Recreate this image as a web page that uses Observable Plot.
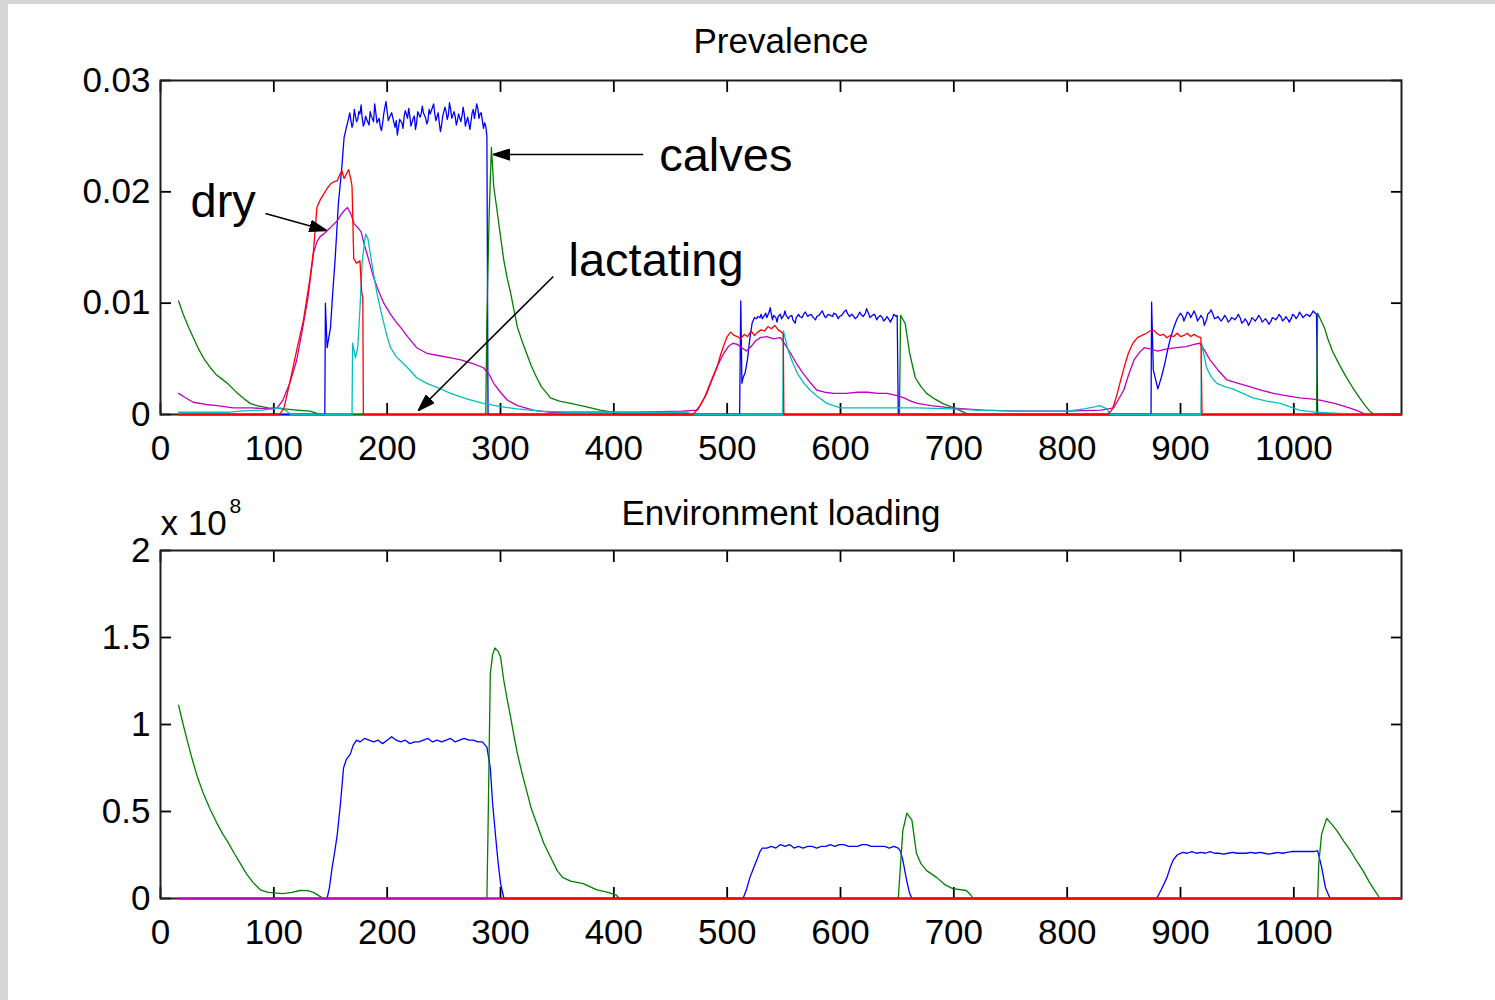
<!DOCTYPE html>
<html><head><meta charset="utf-8">
<script src="https://cdn.jsdelivr.net/npm/d3@7"></script>
<script src="https://cdn.jsdelivr.net/npm/@observablehq/plot@0.6"></script>
<style>
html,body{margin:0;padding:0;width:1495px;height:1000px;overflow:hidden;background:#d6d6d6;}
#page{position:absolute;left:8px;top:4px;width:1487px;height:996px;background:#fff;}
#p1{position:absolute;left:0;top:0;}
#p2{position:absolute;left:0;top:470px;}
</style></head><body><div id="page"></div><div id="p1"></div><div id="p2"></div>
<script>
// ---------- axes ----------
const xDomain = [0, 1095];
const xTicks = [0, 100, 200, 300, 400, 500, 600, 700, 800, 900, 1000];
const prevDomain = [0, 0.03];
const prevTicks = [0, 0.01, 0.02, 0.03];
const prevTickLabels = ["0", "0.01", "0.02", "0.03"];
const envDomain = [0, 2];
const envTicks = [0, 0.5, 1, 1.5, 2];
const envTickLabels = ["0", "0.5", "1", "1.5", "2"];
const titles = ["Prevalence", "Environment loading"];
const envMultiplier = ["x 10", "8"];

// ---------- Prevalence series [day, value] ----------
const prevBlue = [[16,0],[145,0],[145.5,0.0100],[147,0.0060],[150,0.0078],[152,0.0110],[154,0.0138],[157,0.0190],[160,0.0222],[162,0.0249],[165,0.0262],[166,0.0266],[167,0.0271],[168,0.0264],[169,0.0258],[170,0.0262],[171,0.0274],[172,0.0268],[173,0.0263],[174,0.0265],[175,0.0272],[176,0.0270],[177,0.0278],[178,0.0266],[179,0.0259],[180,0.0262],[181,0.0268],[182,0.0265],[184,0.0260],[185,0.0272],[186,0.0268],[188,0.0263],[189,0.0279],[190,0.0271],[191,0.0262],[193,0.0266],[194,0.0258],[195,0.0255],[196,0.0262],[197,0.0270],[198,0.0276],[199,0.0281],[200,0.0272],[201,0.0264],[203,0.0269],[204,0.0271],[206,0.0262],[207,0.0258],[208,0.0264],[209,0.0251],[210,0.0258],[211,0.0265],[213,0.0262],[214,0.0257],[215,0.0268],[216,0.0273],[218,0.0266],[219,0.0275],[220,0.0268],[221,0.0259],[223,0.0266],[224,0.0268],[225,0.0256],[226,0.0262],[227,0.0272],[229,0.0267],[230,0.0270],[231,0.0277],[232,0.0271],[234,0.0266],[235,0.0261],[236,0.0264],[237,0.0274],[238,0.0270],[240,0.0276],[241,0.0279],[242,0.0270],[243,0.0264],[245,0.0271],[246,0.0262],[247,0.0254],[248,0.0260],[249,0.0268],[251,0.0276],[252,0.0272],[253,0.0265],[254,0.0269],[255,0.0280],[256,0.0274],[257,0.0266],[259,0.0272],[260,0.0268],[261,0.0260],[262,0.0264],[263,0.0270],[265,0.0263],[266,0.0268],[267,0.0276],[268,0.0270],[269,0.0259],[270,0.0263],[271,0.0267],[272,0.0262],[273,0.0256],[275,0.0271],[276,0.0274],[277,0.0266],[278,0.0272],[279,0.0279],[280,0.0275],[281,0.0266],[282,0.0270],[283,0.0271],[284,0.0264],[285,0.0257],[286,0.0262],[287,0.0259],[288,0.0250],[289,0],
[511,0],[512,0.0102],[513,0.0028],[514,0.0033],[516,0.0038],[518,0.0050],[520,0.0068],[522,0.0082],[524,0.0087],[526,0.0086],[527,0.0088],[529,0.0087],[530,0.0090],[531,0.0086],[533,0.0089],[534,0.0091],[535,0.0087],[537,0.0092],[538,0.0096],[539,0.0090],[540,0.0085],[541,0.0089],[543,0.0087],[544,0.0083],[545,0.0088],[547,0.0090],[548,0.0086],[550,0.0089],[551,0.0093],[552,0.0089],[554,0.0086],[555,0.0088],[557,0.0089],[558,0.0085],[560,0.0082],[561,0.0087],[563,0.0090],[564,0.0088],[566,0.0087],[568,0.0091],[569,0.0092],[571,0.0088],[572,0.0089],[574,0.0090],[576,0.0087],[578,0.0085],[579,0.0088],[581,0.0089],[583,0.0092],[584,0.0093],[586,0.0088],[587,0.0087],[589,0.0090],[591,0.0089],[593,0.0088],[594,0.0091],[596,0.0090],[598,0.0086],[599,0.0088],[601,0.0089],[603,0.0092],[605,0.0094],[606,0.0091],[608,0.0088],[610,0.0090],[611,0.0089],[613,0.0086],[615,0.0088],[617,0.0092],[618,0.0090],[620,0.0088],[622,0.0091],[623,0.0095],[625,0.0090],[626,0.0087],[628,0.0089],[630,0.0090],[632,0.0085],[633,0.0087],[635,0.0089],[637,0.0087],[638,0.0084],[640,0.0086],[641,0.0088],[643,0.0085],[644,0.0083],[646,0.0087],[647,0.0090],[649,0.0088],[650,0.0089],[651,0],
[874,0],[874.5,0.0101],[876,0.0040],[880,0.0023],[883,0.0033],[886,0.0045],[888,0.0055],[891,0.0068],[894,0.0078],[897,0.0086],[900,0.0091],[902,0.0088],[903,0.0084],[905,0.0089],[906,0.0092],[908,0.0090],[909,0.0087],[911,0.0091],[912,0.0093],[914,0.0088],[915,0.0084],[917,0.0087],[918,0.0089],[920,0.0086],[921,0.0080],[923,0.0085],[924,0.0090],[926,0.0092],[927,0.0094],[929,0.0089],[930,0.0086],[932,0.0087],[933,0.0088],[935,0.0085],[936,0.0084],[938,0.0087],[939,0.0089],[941,0.0086],[942,0.0083],[944,0.0085],[945,0.0087],[947,0.0086],[948,0.0085],[950,0.0088],[951,0.0090],[953,0.0086],[954,0.0082],[956,0.0084],[957,0.0086],[959,0.0083],[960,0.0080],[962,0.0084],[963,0.0087],[965,0.0085],[966,0.0084],[968,0.0087],[969,0.0089],[971,0.0086],[972,0.0083],[974,0.0085],[975,0.0086],[977,0.0083],[978,0.0081],[980,0.0084],[981,0.0087],[983,0.0086],[984,0.0085],[986,0.0088],[987,0.0090],[989,0.0087],[990,0.0084],[992,0.0086],[993,0.0088],[995,0.0085],[996,0.0083],[998,0.0087],[999,0.0090],[1001,0.0088],[1002,0.0086],[1004,0.0089],[1005,0.0092],[1007,0.0089],[1008,0.0087],[1010,0.0089],[1011,0.0090],[1013,0.0089],[1014,0.0088],[1016,0.0091],[1017,0.0093],[1019,0.0091],[1020,0.0090],[1021,0],[1095,0]];

const prevGreen = [[16,0.0102],[20,0.0090],[25,0.0078],[29,0.0069],[34,0.0058],[39,0.0049],[44,0.0042],[49,0.0036],[54,0.0032],[59,0.0028],[64,0.0023],[68,0.0019],[74,0.0014],[79,0.0010],[85,0.0008],[95,0.0006],[109,0.0005],[120,0.0004],[132,0.0003],[138,0.0001],[140,0],[287,0],[288,0.0087],[290,0.0180],[292,0.0240],[294,0.0205],[297,0.0183],[300,0.0160],[303,0.0138],[306,0.0122],[309,0.0109],[312,0.0093],[315,0.0078],[319,0.0066],[323,0.0055],[327,0.0044],[332,0.0033],[336,0.0025],[341,0.0019],[344,0.0015],[352,0.0012],[362,0.0010],[375,0.0007],[388,0.0004],[400,0.0002],[406,0],[652,0],[653,0.0089],[657,0.0082],[661,0.0055],[666,0.0033],[671,0.0025],[676,0.0019],[683,0.0014],[690,0.0010],[700,0.0006],[711,0.0001],[715,0],[1020,0],[1021,0.0091],[1027,0.0078],[1030,0.0068],[1034,0.0057],[1040,0.0045],[1046,0.0034],[1052,0.0024],[1058,0.0015],[1063,0.0008],[1067,0.0003],[1071,0],[1095,0]];

const prevRed = [[16,0],[105,0],[109,0.0006],[115,0.0033],[120,0.0057],[126,0.0084],[132,0.0123],[135,0.0147],[138,0.0186],[141,0.0193],[144,0.0198],[147,0.0203],[150,0.0207],[153,0.0209],[156,0.0210],[158,0.0215],[160,0.0219],[162,0.0212],[164,0.0216],[166,0.0220],[168,0.0211],[169,0.0205],[170.5,0.0140],[173,0.0136],[176,0.0138],[177.5,0.0110],[178.5,0.0105],[179,0],[470,0],[476,0.0008],[482,0.0019],[487,0.0032],[491,0.0042],[494,0.0053],[497,0.0062],[500,0.0070],[503,0.0074],[506,0.0071],[509,0.0070],[512,0.0068],[515,0.0072],[518,0.0070],[521,0.0075],[524,0.0071],[527,0.0074],[530,0.0076],[533,0.0075],[536,0.0079],[539,0.0077],[542,0.0080],[545,0.0076],[548,0.0074],[549.5,0.0072],[550,0],[836,0],[840,0.0005],[844,0.0018],[847,0.0030],[851,0.0045],[854,0.0055],[858,0.0064],[862,0.0069],[866,0.0071],[870,0.0073],[873,0.0075],[876,0.0076],[879,0.0073],[882,0.0071],[885,0.0072],[888,0.0069],[891,0.0071],[894,0.0070],[897,0.0073],[900,0.0070],[903,0.0071],[906,0.0073],[909,0.0070],[912,0.0072],[915,0.0070],[918,0.0069],[919,0],[1095,0]];

const prevMagenta = [[16,0.0019],[22,0.0015],[29,0.0011],[40,0.0009],[50,0.0008],[64,0.0006],[80,0.0006],[95,0.0005],[103,0.0006],[108,0.0013],[114,0.0028],[120,0.0048],[125,0.0075],[130,0.0104],[135,0.0145],[138,0.0155],[141,0.0160],[144,0.0162],[147,0.0165],[150,0.0168],[153,0.0171],[156,0.0174],[159,0.0179],[162,0.0183],[165,0.0186],[168,0.0180],[171,0.0171],[174,0.0168],[177,0.0164],[180,0.0152],[184,0.0138],[188,0.0123],[192,0.0112],[197,0.0100],[203,0.0090],[208,0.0083],[212,0.0078],[218,0.0070],[226,0.0060],[235,0.0055],[245,0.0053],[255,0.0051],[265,0.0049],[275,0.0046],[285,0.0042],[290,0.0036],[294,0.0028],[300,0.0020],[306,0.0013],[315,0.0008],[329,0.0004],[344,0.0002],[380,0.0002],[420,0.0002],[460,0.0003],[474,0.0004],[480,0.0015],[485,0.0028],[491,0.0043],[497,0.0055],[501,0.0061],[505,0.0064],[509,0.0063],[513,0.0060],[517,0.0057],[521,0.0061],[525,0.0066],[529,0.0069],[535,0.0070],[541,0.0068],[547,0.0069],[551,0.0063],[556,0.0055],[561,0.0046],[567,0.0037],[573,0.0029],[579,0.0022],[586,0.0020],[594,0.0019],[605,0.0019],[615,0.0020],[624,0.0020],[633,0.0019],[641,0.0019],[650,0.0017],[656,0.0015],[662,0.0012],[668,0.0010],[680,0.0008],[697,0.0006],[726,0.0004],[760,0.0003],[800,0.0003],[830,0.0004],[841,0.0006],[845,0.0013],[850,0.0022],[854,0.0035],[859,0.0049],[864,0.0056],[868,0.0060],[873,0.0059],[880,0.0057],[888,0.0059],[897,0.0060],[905,0.0061],[912,0.0063],[917,0.0064],[921,0.0058],[926,0.0049],[933,0.0040],[941,0.0031],[951,0.0028],[961,0.0025],[971,0.0022],[982,0.0019],[993,0.0017],[1005,0.0015],[1015,0.0014],[1023,0.0013],[1036,0.0010],[1049,0.0006],[1057,0.0003],[1064,0],[1095,0]];

const prevCyan = [[16,0.0002],[60,0.0002],[70,0.0003],[90,0.0004],[100,0.0005],[106,0.0006],[110,0.0004],[115,0],[169,0],[169.5,0.0064],[172,0.0051],[174,0.0060],[176,0.0095],[178,0.0138],[181,0.0162],[183,0.0158],[185,0.0145],[188,0.0126],[191,0.0109],[194,0.0095],[197,0.0082],[200,0.0070],[203,0.0060],[208,0.0052],[214,0.0046],[220,0.0040],[226,0.0033],[235,0.0028],[245,0.0024],[256,0.0019],[270,0.0014],[285,0.0010],[300,0.0007],[315,0.0005],[335,0.0003],[360,0.0002],[400,0.0002],[440,0.0002],[465,0.0002],[470,0],[549,0],[549.6,0.0075],[554,0.0057],[558,0.0046],[562,0.0037],[567,0.0029],[573,0.0022],[580,0.0016],[588,0.0010],[600,0.0006],[620,0.0006],[640,0.0006],[668,0.0006],[697,0.0005],[720,0.0004],[760,0.0003],[800,0.0003],[815,0.0005],[825,0.0007],[829,0.0008],[835,0.0005],[838,0],[918,0],[918.6,0.0064],[923,0.0042],[927,0.0034],[932,0.0028],[939,0.0025],[946,0.0023],[955,0.0019],[964,0.0015],[976,0.0012],[988,0.0010],[996,0.0007],[1005,0.0004],[1020,0.0002],[1040,0.0001],[1060,0],[1095,0]];

// ---------- Environment loading series [day, value x 10^8] ----------
const envBlue = [[16,0],[147,0],[149,0.06],[151.5,0.18],[154,0.28],[156,0.37],[159,0.56],[161.5,0.75],[164,0.80],[167.5,0.83],[170,0.88],[173,0.91],[176,0.90],[180,0.92],[184,0.91],[188,0.90],[192,0.91],[196,0.89],[200,0.91],[204,0.93],[208,0.91],[212,0.90],[216,0.91],[220,0.89],[224,0.90],[228,0.90],[232,0.91],[236,0.92],[240,0.90],[244,0.91],[248,0.90],[252,0.91],[256,0.92],[260,0.90],[264,0.91],[268,0.92],[272,0.91],[276,0.91],[280,0.90],[284,0.90],[288,0.87],[291,0.75],[293,0.55],[295.5,0.37],[298,0.20],[300,0.09],[303,0],
[514,0],[517,0.05],[520,0.12],[523,0.17],[526,0.22],[529,0.27],[531,0.29],[535,0.29],[539,0.30],[543,0.29],[547,0.31],[551,0.30],[555,0.31],[559,0.29],[563,0.30],[567,0.29],[571,0.30],[575,0.30],[579,0.29],[583,0.30],[587,0.30],[591,0.31],[595,0.30],[599,0.31],[603,0.31],[607,0.30],[611,0.30],[615,0.30],[619,0.31],[623,0.31],[627,0.30],[631,0.30],[635,0.30],[639,0.30],[643,0.29],[647,0.30],[651,0.29],[653,0.27],[655,0.22],[658.5,0.10],[661,0.03],[663,0],
[879,0],[883,0.05],[888,0.12],[891,0.18],[893.5,0.22],[897,0.25],[902,0.265],[906,0.26],[910,0.27],[914,0.26],[918,0.265],[922,0.26],[926,0.27],[930,0.26],[934,0.26],[938,0.255],[942,0.26],[946,0.265],[950,0.26],[954,0.26],[958,0.26],[962,0.265],[966,0.26],[970,0.265],[974,0.26],[978,0.255],[982,0.26],[986,0.265],[990,0.26],[994,0.265],[998,0.27],[1002,0.27],[1006,0.27],[1010,0.27],[1014,0.27],[1018,0.27],[1021,0.275],[1024.5,0.18],[1028,0.06],[1032,0],[1095,0]];

const envGreen = [[16,1.11],[20,1.00],[23.5,0.91],[28,0.80],[32.5,0.70],[38,0.60],[44,0.51],[50,0.43],[55,0.37],[59,0.33],[65,0.26],[70.5,0.20],[76,0.14],[82,0.09],[88,0.05],[95,0.035],[108,0.028],[116,0.035],[123,0.046],[130,0.045],[135,0.035],[140,0.015],[144,0],[288,0],[289,0.40],[291,1.29],[293,1.40],[295,1.44],[298,1.42],[300,1.39],[303,1.25],[306,1.14],[309,1.04],[312,0.93],[315,0.83],[319,0.72],[323,0.62],[327,0.52],[332,0.43],[338,0.32],[344,0.24],[350,0.16],[355,0.12],[362,0.10],[373,0.086],[385,0.05],[395,0.035],[402,0.02],[405,0],[651,0],[653,0.20],[655,0.39],[658.5,0.49],[663,0.45],[667,0.26],[671,0.20],[676,0.16],[685,0.12],[692,0.08],[699,0.057],[711,0.046],[715,0.02],[717,0],[1021,0],[1022,0.20],[1024.5,0.37],[1029,0.46],[1033,0.43],[1038,0.39],[1044,0.33],[1049.5,0.28],[1055,0.22],[1061,0.16],[1067,0.09],[1072,0.04],[1076,0],[1095,0]];
const envCyan = [[16,0],[1095,0]];
const envMagenta = [[16,0],[1095,0]];
const envRed = [[300,0],[1095,0]];

// ---------- annotations (data coordinates of the Prevalence panel) ----------
const noteLabels = ["calves", "dry", "lactating"];
const noteX = [440, 26.5, 360];
const noteY = [0.02326, 0.01913, 0.01383];
const arrowX1 = [425.9, 92.6, 346.6];
const arrowY1 = [0.02335, 0.01805, 0.0124];
const arrowX2 = [293.7, 146.4, 227.5];
const arrowY2 = [0.02335, 0.01653, 0.00036];

// ---------- styling ----------
const C = {blue: "#0000ff", green: "#008000", red: "#ff0000", cyan: "#00bfbf", magenta: "#bf00bf"};
const FONT = "'Liberation Sans', Arial, Helvetica, sans-serif";
const LW = 1.3;

function headMarker(color, context) {
  const doc = (context && context.document) || document;
  const ns = "http://www.w3.org/2000/svg";
  const m = doc.createElementNS(ns, "marker");
  m.setAttribute("viewBox", "-17 -6 17 12");
  m.setAttribute("markerWidth", "17");
  m.setAttribute("markerHeight", "12");
  m.setAttribute("markerUnits", "userSpaceOnUse");
  m.setAttribute("orient", "auto");
  m.setAttribute("refX", "0");
  m.setAttribute("refY", "0");
  const p = doc.createElementNS(ns, "path");
  p.setAttribute("d", "M-17,-5.5L0,0L-17,5.5Z");
  p.setAttribute("fill", "#000");
  m.appendChild(p);
  return m;
}

const px = d => d[0], py = d => d[1];
function line(data, color) {
  return Plot.line(data, {x: px, y: py, stroke: color, strokeWidth: LW, strokeLinejoin: "round"});
}

function frameAndAxes(yTicks, yLabels) {
  return [
    Plot.axisX({anchor: "bottom", ticks: xTicks, tickSize: 0, tickPadding: 21, tickFormat: d => String(d), fontSize: 35, label: null}),
    Plot.axisY({anchor: "left", ticks: yTicks, tickSize: 0, tickPadding: 10, tickFormat: d => yLabels[yTicks.indexOf(d)], fontSize: 35, label: null}),
    Plot.axisX({anchor: "bottom", ticks: xTicks, tickSize: -11, tickFormat: () => "", strokeWidth: 1.8, label: null}),
    Plot.axisX({anchor: "top", ticks: xTicks, tickSize: -11, tickFormat: () => "", strokeWidth: 1.8, label: null}),
    Plot.axisY({anchor: "left", ticks: yTicks, tickSize: -11, tickFormat: () => "", strokeWidth: 1.8, label: null}),
    Plot.axisY({anchor: "right", ticks: yTicks, tickSize: -11, tickFormat: () => "", strokeWidth: 1.8, label: null}),
    Plot.frame({stroke: "#1e1e1e", strokeWidth: 2})
  ];
}

function buildTop(marker) {
  return Plot.plot({
    width: 1495, height: 470,
    marginLeft: 160, marginRight: 94, marginTop: 80, marginBottom: 56,
    style: {fontFamily: FONT, background: "transparent", color: "#000", overflow: "visible"},
    x: {domain: xDomain, label: null},
    y: {domain: prevDomain, label: null},
    marks: [
      ...frameAndAxes(prevTicks, prevTickLabels),
      line(prevBlue, C.blue),
      line(prevGreen, C.green),
      line(prevMagenta, C.magenta),
      line(prevCyan, C.cyan),
      line(prevRed, C.red),
      Plot.text([titles[0]], {text: d => d, frameAnchor: "top", dy: -52, lineAnchor: "top", fontSize: 35}),
      Plot.link(noteLabels, {x1: (d, i) => arrowX1[i], y1: (d, i) => arrowY1[i], x2: (d, i) => arrowX2[i], y2: (d, i) => arrowY2[i], stroke: "#000", strokeWidth: 1.6, markerEnd: marker}),
      Plot.text(noteLabels, {x: (d, i) => noteX[i], y: (d, i) => noteY[i], text: d => d, textAnchor: "start", lineAnchor: "middle", fontSize: 47})
    ]
  });
}

function buildBottom() {
  return Plot.plot({
    width: 1495, height: 530,
    marginLeft: 160, marginRight: 94, marginTop: 80, marginBottom: 102,
    style: {fontFamily: FONT, background: "transparent", color: "#000", overflow: "visible"},
    x: {domain: xDomain, label: null},
    y: {domain: envDomain, label: null},
    marks: [
      ...frameAndAxes(envTicks, envTickLabels),
      line(envBlue, C.blue),
      line(envGreen, C.green),
      line(envCyan, C.cyan),
      line(envMagenta, C.magenta),
      line(envRed, C.red),
      Plot.text([titles[1]], {text: d => d, frameAnchor: "top", dy: -50, lineAnchor: "top", fontSize: 35}),
      Plot.text([envMultiplier[0]], {text: d => d, frameAnchor: "top-left", dy: -40, textAnchor: "start", lineAnchor: "top", fontSize: 35}),
      Plot.text([envMultiplier[1]], {text: d => d, frameAnchor: "top-left", dx: 69, dy: -52, textAnchor: "start", lineAnchor: "top", fontSize: 21})
    ]
  });
}

let topChart;
try { topChart = buildTop(headMarker); } catch (e) { topChart = buildTop("arrow"); }
document.getElementById("p1").appendChild(topChart);
document.getElementById("p2").appendChild(buildBottom());
</script></body></html>
